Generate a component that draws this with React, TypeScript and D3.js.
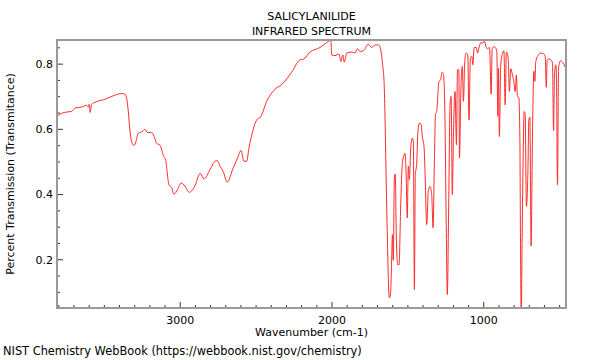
import { useRef, useEffect } from "react";
import * as d3 from "d3";

// spectrum (wavenumber in cm-1, transmittance)
const wavenumbers = [
  3812, 3782, 3749, 3716, 3690, 3650, 3617, 3606, 3600, 3593, 3584, 3562, 3496, 3430, 3386, 3365, 3353, 3343,
  3332, 3320, 3305, 3292, 3277, 3250, 3233, 3215, 3189, 3167, 3156, 3134, 3112, 3094, 3083, 3074, 3057, 3042,
  3017, 2995, 2969, 2941, 2908, 2868, 2844, 2804, 2771, 2754, 2738, 2717, 2690, 2651, 2622, 2600, 2580, 2562,
  2547, 2525, 2496, 2470, 2430, 2376, 2332, 2266, 2211, 2189, 2145, 2079, 2035, 2007, 2002, 1980, 1954, 1941,
  1929, 1919, 1903, 1870, 1848, 1833, 1815, 1793, 1761, 1738, 1716, 1695, 1688, 1677, 1667, 1657, 1650, 1644,
  1635, 1626, 1622, 1613, 1606, 1602, 1596, 1589, 1583, 1576, 1567, 1558, 1547, 1537, 1525, 1519, 1512, 1504,
  1497, 1490, 1481, 1471, 1464, 1457, 1451, 1442, 1435, 1424, 1413, 1405, 1393, 1387, 1376, 1365, 1354, 1343,
  1334, 1326, 1318, 1310, 1295, 1284, 1275, 1266, 1257, 1248, 1240, 1231, 1222, 1215, 1207, 1200, 1189, 1180,
  1173, 1164, 1160, 1151, 1141, 1134, 1125, 1117, 1105, 1097, 1088, 1078, 1072, 1063, 1050, 1041, 1032, 1018,
  1008, 996, 985, 976, 962, 951, 945, 932, 921, 914, 907, 903, 897, 888, 876, 867, 859, 851, 842, 838, 831, 822,
  811, 802, 793, 785, 778, 769, 762, 758, 753, 747, 740, 734, 727, 719, 709, 703, 696, 688, 679, 670, 663, 657,
  643, 628, 606, 595, 588, 582, 569, 556, 547, 540, 534, 525, 521, 514, 507, 496, 485, 470, 458,
];
const transmittance = [
  0.64, 0.649, 0.653, 0.655, 0.666, 0.668, 0.674, 0.669, 0.677, 0.652, 0.677, 0.683, 0.692, 0.705, 0.71, 0.708,
  0.695, 0.659, 0.598, 0.562, 0.55, 0.562, 0.588, 0.593, 0.6, 0.59, 0.59, 0.572, 0.557, 0.552, 0.521, 0.501,
  0.455, 0.429, 0.422, 0.401, 0.416, 0.435, 0.426, 0.407, 0.422, 0.465, 0.448, 0.476, 0.502, 0.504, 0.487,
  0.471, 0.438, 0.482, 0.512, 0.535, 0.502, 0.502, 0.543, 0.589, 0.629, 0.638, 0.686, 0.723, 0.737, 0.775,
  0.813, 0.815, 0.837, 0.851, 0.866, 0.873, 0.828, 0.826, 0.831, 0.808, 0.828, 0.806, 0.834, 0.837, 0.834,
  0.847, 0.839, 0.841, 0.861, 0.851, 0.859, 0.859, 0.857, 0.84, 0.8, 0.747, 0.624, 0.471, 0.267, 0.104, 0.083,
  0.104, 0.216, 0.277, 0.198, 0.451, 0.463, 0.267, 0.185, 0.185, 0.369, 0.492, 0.522, 0.527, 0.471, 0.328,
  0.487, 0.446, 0.543, 0.573, 0.563, 0.109, 0.461, 0.492, 0.583, 0.619, 0.616, 0.579, 0.543, 0.471, 0.308,
  0.41, 0.425, 0.4, 0.298, 0.48, 0.645, 0.655, 0.747, 0.752, 0.775, 0.769, 0.675, 0.339, 0.093, 0.369, 0.675,
  0.701, 0.4, 0.573, 0.716, 0.553, 0.783, 0.783, 0.512, 0.716, 0.793, 0.686, 0.808, 0.834, 0.828, 0.629, 0.818,
  0.824, 0.798, 0.851, 0.851, 0.834, 0.849, 0.867, 0.864, 0.871, 0.854, 0.847, 0.851, 0.708, 0.844, 0.854,
  0.849, 0.839, 0.64, 0.788, 0.578, 0.798, 0.834, 0.841, 0.675, 0.837, 0.828, 0.808, 0.716, 0.786, 0.767, 0.747,
  0.716, 0.767, 0.701, 0.698, 0.573, 0.267, 0.03, 0.267, 0.522, 0.655, 0.645, 0.364, 0.471, 0.629, 0.637, 0.242,
  0.573, 0.778, 0.747, 0.808, 0.826, 0.834, 0.832, 0.824, 0.729, 0.813, 0.816, 0.813, 0.803, 0.596, 0.767,
  0.798, 0.757, 0.43, 0.788, 0.81, 0.808, 0.798, 0.786,
];
const xMajorTicks = [3000, 2000, 1000];
const yMajorTicks = [0.2, 0.4, 0.6, 0.8];
const titleLines = ["SALICYLANILIDE", "INFRARED SPECTRUM"];

const App = () => {
  const chartRef = useRef(null);

  useEffect(() => {
    const width = 600;
    const height = 360;
    const margin = { top: 40, right: 34, bottom: 52, left: 57 };
    const font = "DejaVu Sans, sans-serif";

    const svg = d3
      .select(chartRef.current)
      .append("svg")
      .attr("width", width)
      .attr("height", height)
      .style("position", "absolute")
      .style("left", "0px")
      .style("top", "0px")
      .style("background", "#fff");

    const x = d3.scaleLinear().domain([3812, 458]).range([margin.left, width - margin.right]);
    const y = d3.scaleLinear().domain([0.052, 0.874]).range([height - margin.bottom, margin.top]);

    const x0 = margin.left;
    const x1 = width - margin.right;
    const y0 = height - margin.bottom;
    const y1 = margin.top;

    svg
      .append("defs")
      .append("clipPath")
      .attr("id", "plot-clip")
      .append("rect")
      .attr("x", x0)
      .attr("y", y1)
      .attr("width", x1 - x0)
      .attr("height", y0 - y1);

    const points = wavenumbers.map((w, i) => [w, transmittance[i]] as [number, number]);
    const line = d3
      .line<[number, number]>()
      .x(d => x(d[0]))
      .y(d => y(d[1]))
      .curve(d3.curveMonotoneX);

    svg
      .append("path")
      .attr("d", line(points))
      .attr("fill", "none")
      .attr("stroke", "#ff2a2a")
      .attr("stroke-width", 1)
      .attr("clip-path", "url(#plot-clip)");

    // x ticks (inside the frame)
    const xMinor = d3.range(3800, 400, -100);
    svg
      .append("g")
      .selectAll("line")
      .data(xMinor)
      .enter()
      .append("line")
      .attr("x1", d => x(d))
      .attr("x2", d => x(d))
      .attr("y1", y0)
      .attr("y2", d => (xMajorTicks.includes(d) ? y0 - 6 : y0 - 3))
      .attr("stroke", "#333")
      .attr("stroke-width", 1);

    svg
      .append("g")
      .selectAll("text")
      .data(xMajorTicks)
      .enter()
      .append("text")
      .attr("x", d => x(d))
      .attr("y", y0 + 16)
      .attr("text-anchor", "middle")
      .attr("font-family", font)
      .attr("font-size", 11)
      .attr("fill", "#000")
      .text(d => d);

    // y ticks
    const yMinor = d3.range(0.1, 0.87, 0.05).map(v => Math.round(v * 100) / 100);
    svg
      .append("g")
      .selectAll("line")
      .data(yMinor)
      .enter()
      .append("line")
      .attr("x1", x0)
      .attr("x2", d => (yMajorTicks.includes(d) ? x0 + 6 : x0 + 3))
      .attr("y1", d => y(d))
      .attr("y2", d => y(d))
      .attr("stroke", "#333")
      .attr("stroke-width", 1);

    svg
      .append("g")
      .selectAll("text")
      .data(yMajorTicks)
      .enter()
      .append("text")
      .attr("x", x0 - 4)
      .attr("y", d => y(d))
      .attr("dy", "0.35em")
      .attr("text-anchor", "end")
      .attr("font-family", font)
      .attr("font-size", 11)
      .attr("fill", "#000")
      .text(d => d.toFixed(1));

    // frame
    svg
      .append("rect")
      .attr("x", x0)
      .attr("y", y1)
      .attr("width", x1 - x0)
      .attr("height", y0 - y1)
      .attr("fill", "none")
      .attr("stroke", "#999")
      .attr("stroke-width", 2);

    const cx = (x0 + x1) / 2;
    titleLines.forEach((t, i) => {
      svg
        .append("text")
        .attr("x", cx)
        .attr("y", 20 + i * 14.5)
        .attr("text-anchor", "middle")
        .attr("font-family", font)
        .attr("font-size", 11)
        .attr("fill", "#000")
        .text(t);
    });

    svg
      .append("text")
      .attr("x", cx)
      .attr("y", 336)
      .attr("text-anchor", "middle")
      .attr("font-family", font)
      .attr("font-size", 11)
      .attr("fill", "#000")
      .text("Wavenumber (cm-1)");

    svg
      .append("text")
      .attr("transform", `translate(14, ${(y0 + y1) / 2}) rotate(-90)`)
      .attr("text-anchor", "middle")
      .attr("font-family", font)
      .attr("font-size", 11)
      .attr("fill", "#000")
      .text("Percent Transmission (Transmitance)");

    svg
      .append("text")
      .attr("x", 3)
      .attr("y", 355)
      .attr("font-family", font)
      .attr("font-size", 11.4)
      .attr("fill", "#000")
      .text("NIST Chemistry WebBook (https://webbook.nist.gov/chemistry)");

    return () => {
      svg.remove();
    };
  }, []);

  return <div ref={chartRef}></div>;
};

export default App;
